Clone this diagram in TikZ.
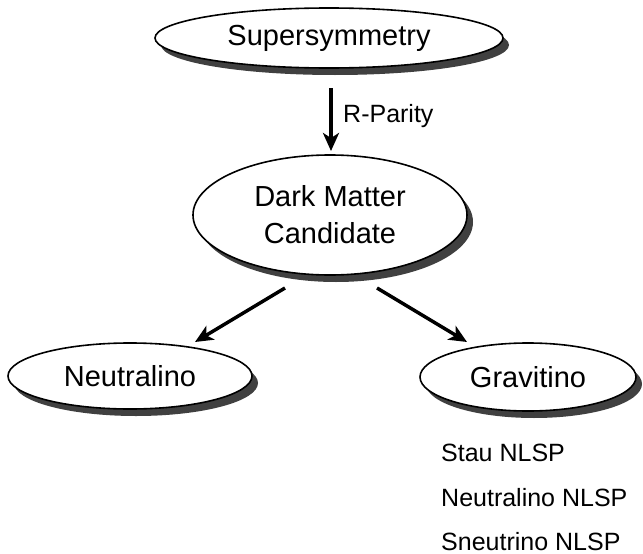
\documentclass[tikz,border=0pt]{standalone}
\usepackage{fontspec}
\setmainfont{Liberation Sans}
\usetikzlibrary{shapes.geometric,arrows.meta,shadows}

\begin{document}
\begin{tikzpicture}[x=1pt,y=-1pt,
  bubble/.style={ellipse, draw, line width=1.6pt, fill=white, inner sep=0pt,
    font=\fontsize{29}{37}\selectfont, align=center,
    drop shadow={shadow xshift=6pt, shadow yshift=-7pt, fill=black!75, opacity=1}},
  flow/.style={line width=3.5pt, -{Stealth[length=18pt,width=16pt,inset=5pt]}},
  note/.style={font=\fontsize{25}{30}\selectfont, inner sep=0pt}]
\useasboundingbox (0,0) rectangle (643,554);

\node[bubble, minimum width=348pt, minimum height=60pt] (susy) at (329,38) {Supersymmetry};
\node[bubble, minimum width=274pt, minimum height=120pt] (dm) at (330,215) {Dark Matter\\Candidate};
\node[bubble, minimum width=244pt, minimum height=66pt] (neu) at (130,376) {Neutralino};
\node[bubble, minimum width=216pt, minimum height=68pt] (gra) at (528,377) {Gravitino};

\coordinate (a1) at (331,88);
\coordinate (a2) at (331,151);
\coordinate (l1) at (285,288);
\coordinate (l2) at (195,342);
\coordinate (r1) at (377,288);
\coordinate (r2) at (467,342);

\draw[flow] (a1) -- (a2);
\draw[flow] (l1) -- (l2);
\draw[flow] (r1) -- (r2);

\node[note, anchor=base west] (rp) at (343,122) {R-Parity};
\node[note, anchor=base west] (n1) at (441,461) {Stau NLSP};
\node[note, anchor=base west] (n2) at (441,506) {Neutralino NLSP};
\node[note, anchor=base west] (n3) at (441,550) {Sneutrino NLSP};
\end{tikzpicture}
\end{document}
